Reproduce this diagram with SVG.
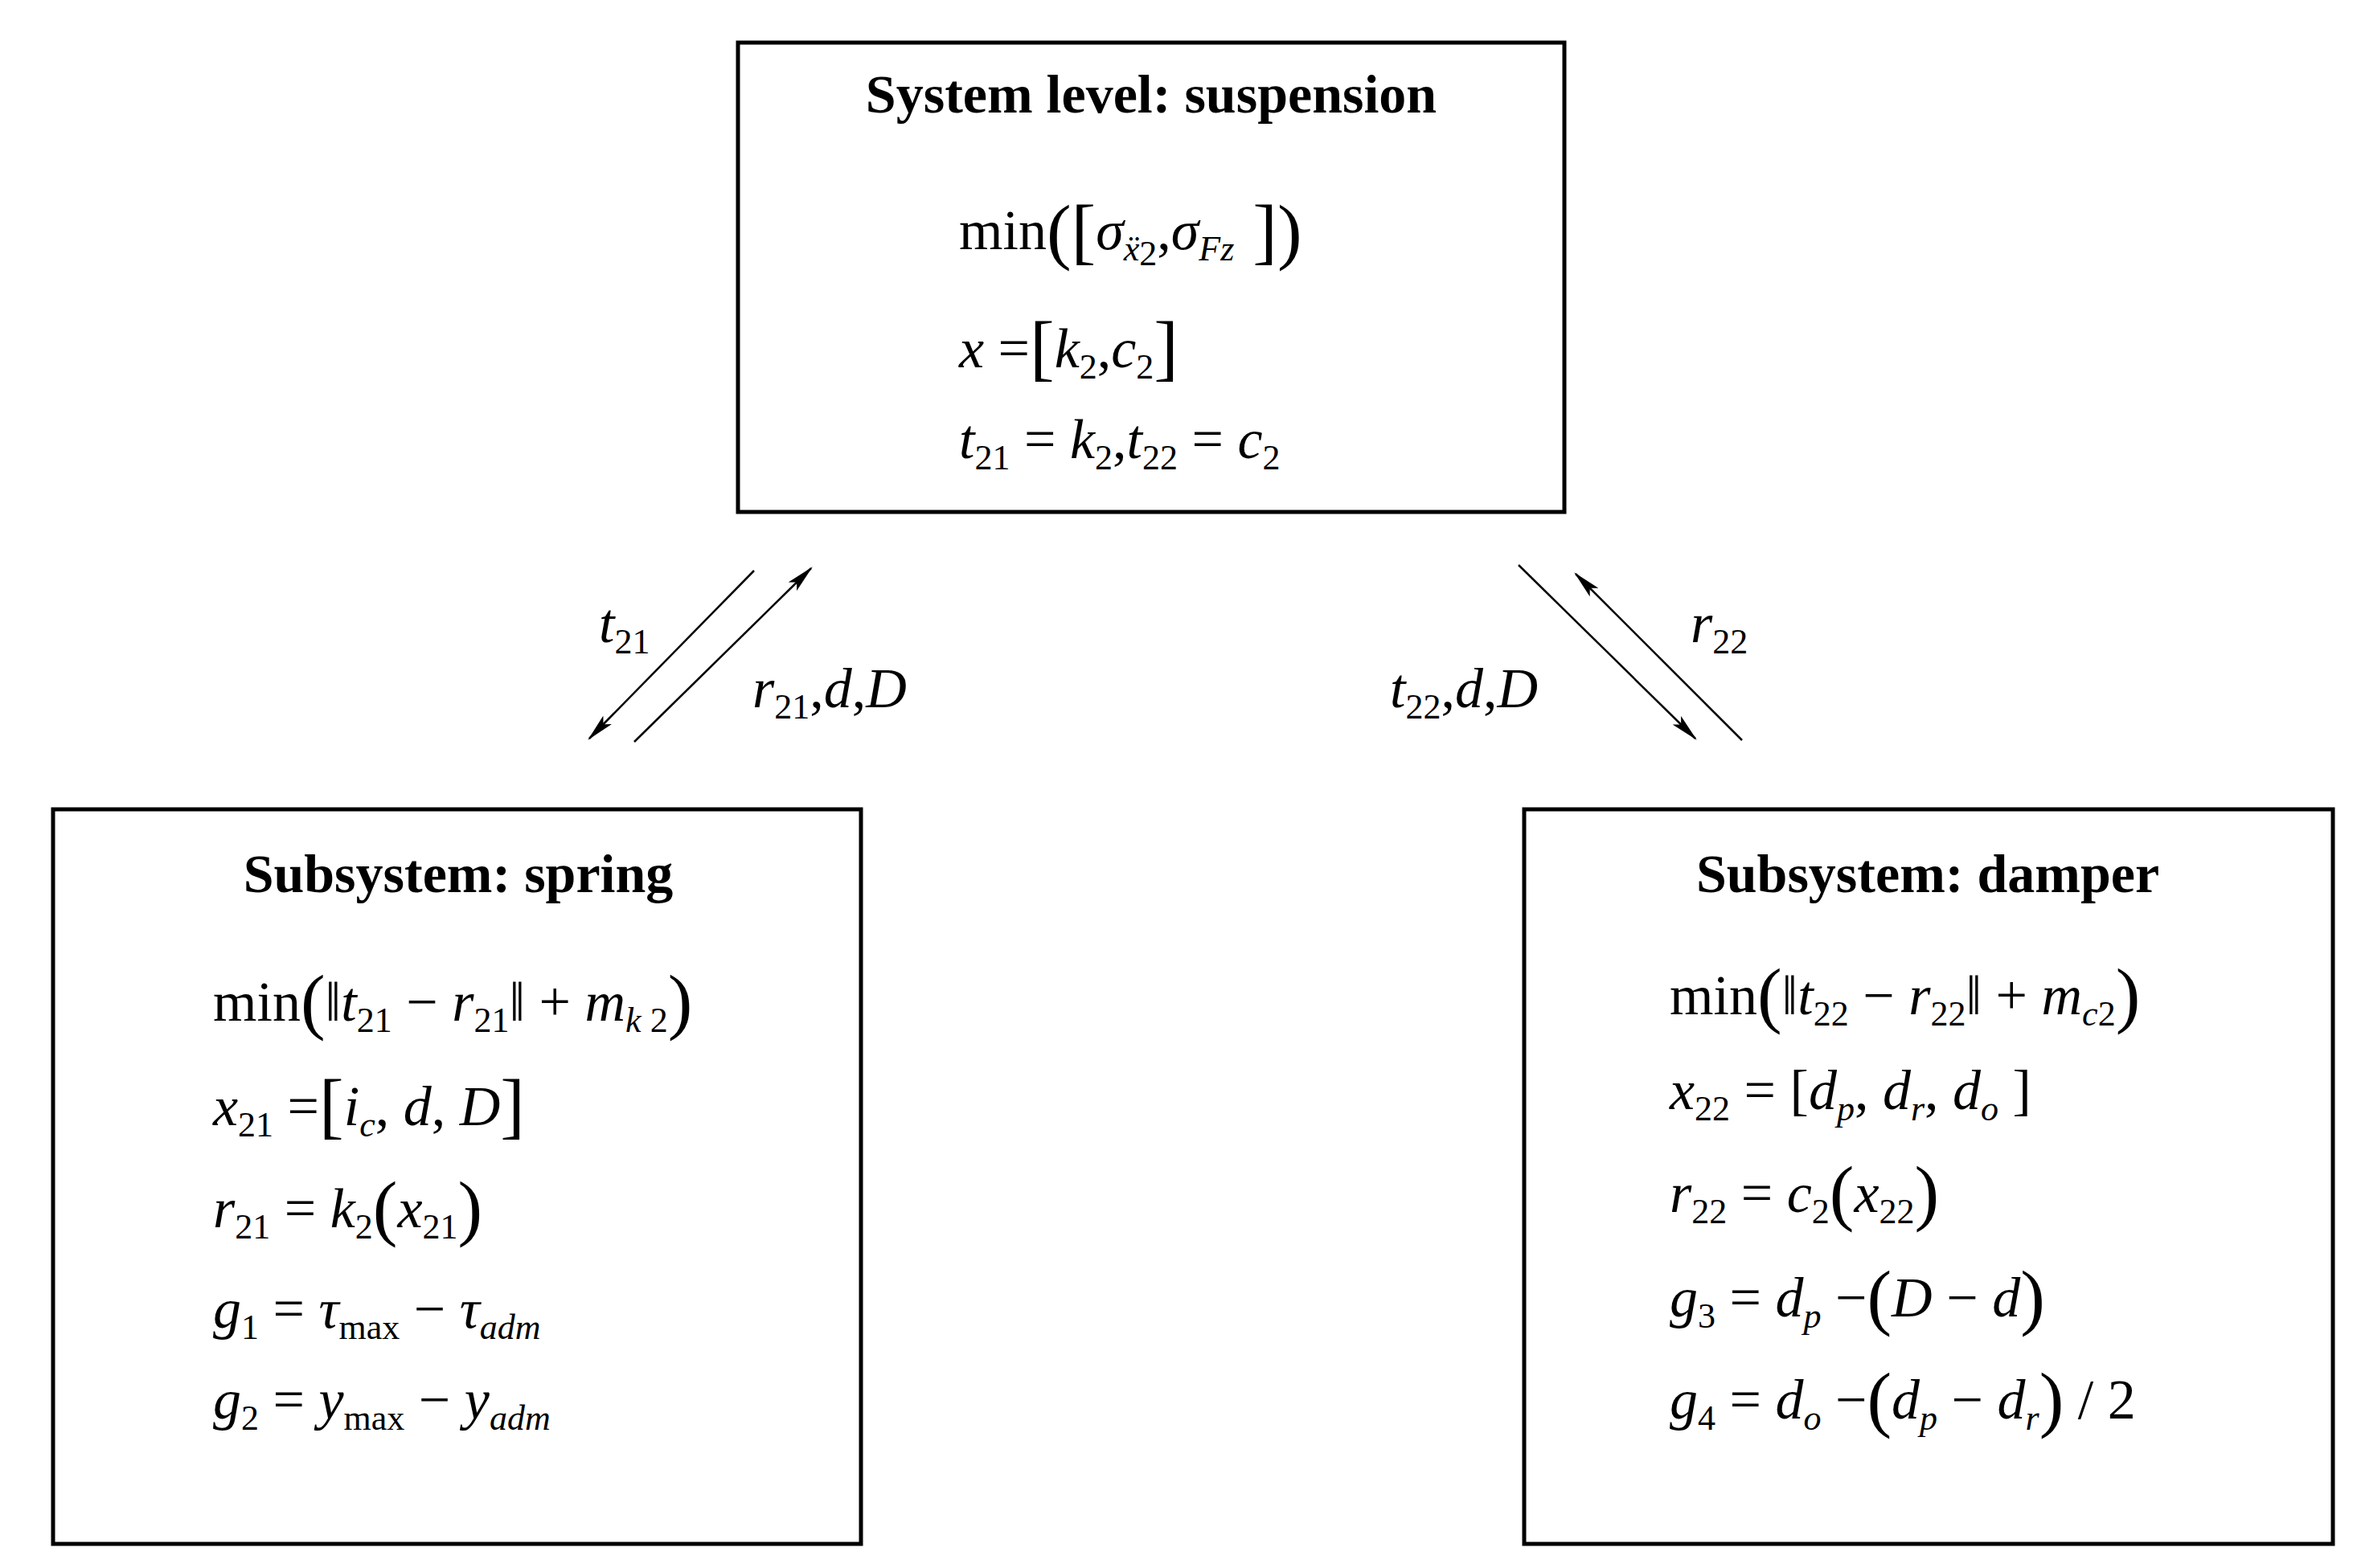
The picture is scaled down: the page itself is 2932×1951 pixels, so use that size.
<svg xmlns="http://www.w3.org/2000/svg" width="2932" height="1951" viewBox="0 0 2932 1951">
<style>
.box{fill:#fff;stroke:#000;stroke-width:5}
.ttl{font-family:"Liberation Serif",serif;font-weight:bold;font-size:68px;text-anchor:middle}
.m{font-family:"Liberation Serif",serif;font-size:70px}
.i{font-style:italic}
.s{font-size:44px}
.b{font-size:92px}
.ln{stroke:#000;stroke-width:2.5;fill:none}
</style>
<defs>
<marker id="ah" markerWidth="14" markerHeight="6" refX="13" refY="3" orient="auto" markerUnits="strokeWidth" viewBox="0 0 14 6">
<path d="M0,0 L14,3 L0,6 L3,3 Z" fill="#000"/>
</marker>
</defs>
<rect width="2932" height="1951" fill="#fff"/>
<g id="system">
<rect class="box" x="918" y="53" width="1028" height="584"/>
<text class="ttl" x="1432" y="140">System level: suspension</text>
<text class="m" x="1193" y="310">min<tspan class="b" dy="8">([</tspan><tspan class="i" dy="-8">σ</tspan><tspan class="i s" dy="14">ẍ</tspan><tspan class="s" font-size="30" dy="6">2</tspan><tspan dy="-20">,</tspan><tspan class="i">σ</tspan><tspan class="i s" dy="14">Fz</tspan><tspan class="b" dy="-6"> ])</tspan></text>
<text class="m" x="1193" y="457"><tspan class="i">x</tspan> =<tspan class="b" dy="6">[</tspan><tspan class="i" dy="-6">k</tspan><tspan class="s" dy="14">2</tspan><tspan dy="-14">,</tspan><tspan class="i">c</tspan><tspan class="s" dy="14">2</tspan><tspan class="b" dy="-8">]</tspan></text>
<text class="m" x="1193" y="570"><tspan class="i">t</tspan><tspan class="s" dy="14">21</tspan><tspan dy="-14"> = </tspan><tspan class="i">k</tspan><tspan class="s" dy="14">2</tspan><tspan dy="-14">,</tspan><tspan class="i">t</tspan><tspan class="s" dy="14">22</tspan><tspan dy="-14"> = </tspan><tspan class="i">c</tspan><tspan class="s" dy="14">2</tspan></text>
</g>
<g id="spring">
<rect class="box" x="66" y="1007" width="1005" height="914"/>
<text class="ttl" x="570" y="1110">Subsystem: spring</text>
<text class="m" x="265" y="1270">min<tspan class="b" dy="6">(</tspan><tspan dy="-6">‖</tspan><tspan class="i">t</tspan><tspan class="s" dy="14">21</tspan><tspan dy="-14"> − </tspan><tspan class="i">r</tspan><tspan class="s" dy="14">21</tspan><tspan dy="-14">‖ + </tspan><tspan class="i">m</tspan><tspan class="i s" dy="14">k</tspan><tspan class="s"> 2</tspan><tspan class="b" dy="-8">)</tspan></text>
<text class="m" x="265" y="1400"><tspan class="i">x</tspan><tspan class="s" dy="14">21</tspan><tspan dy="-14"> =</tspan><tspan class="b" dy="6">[</tspan><tspan class="i" dy="-6">i</tspan><tspan class="i s" dy="14">c</tspan><tspan dy="-14">, </tspan><tspan class="i">d</tspan>, <tspan class="i">D</tspan><tspan class="b" dy="6">]</tspan></text>
<text class="m" x="265" y="1527"><tspan class="i">r</tspan><tspan class="s" dy="14">21</tspan><tspan dy="-14"> = </tspan><tspan class="i">k</tspan><tspan class="s" dy="14">2</tspan><tspan class="b" dy="-8">(</tspan><tspan class="i" dy="-6">x</tspan><tspan class="s" dy="14">21</tspan><tspan class="b" dy="-8">)</tspan></text>
<text class="m" x="265" y="1652"><tspan class="i">g</tspan><tspan class="s" dy="14">1</tspan><tspan dy="-14"> = </tspan><tspan class="i">τ</tspan><tspan class="s" dy="14">max</tspan><tspan dy="-14"> − </tspan><tspan class="i">τ</tspan><tspan class="i s" dy="14">adm</tspan></text>
<text class="m" x="265" y="1765"><tspan class="i">g</tspan><tspan class="s" dy="14">2</tspan><tspan dy="-14"> = </tspan><tspan class="i">y</tspan><tspan class="s" dy="14">max</tspan><tspan dy="-14"> − </tspan><tspan class="i">y</tspan><tspan class="i s" dy="14">adm</tspan></text>
</g>
<g id="damper">
<rect class="box" x="1896" y="1007" width="1006" height="914"/>
<text class="ttl" x="2398" y="1110">Subsystem: damper</text>
<text class="m" x="2077" y="1262">min<tspan class="b" dy="6">(</tspan><tspan dy="-6">‖</tspan><tspan class="i">t</tspan><tspan class="s" dy="14">22</tspan><tspan dy="-14"> − </tspan><tspan class="i">r</tspan><tspan class="s" dy="14">22</tspan><tspan dy="-14">‖ + </tspan><tspan class="i">m</tspan><tspan class="i s" dy="14">c</tspan><tspan class="s">2</tspan><tspan class="b" dy="-8">)</tspan></text>
<text class="m" x="2077" y="1380"><tspan class="i">x</tspan><tspan class="s" dy="14">22</tspan><tspan dy="-14"> = [</tspan><tspan class="i">d</tspan><tspan class="i s" dy="14">p</tspan><tspan dy="-14">, </tspan><tspan class="i">d</tspan><tspan class="i s" dy="14">r</tspan><tspan dy="-14">, </tspan><tspan class="i">d</tspan><tspan class="i s" dy="14">o</tspan><tspan dy="-14"> ]</tspan></text>
<text class="m" x="2077" y="1508"><tspan class="i">r</tspan><tspan class="s" dy="14">22</tspan><tspan dy="-14"> = </tspan><tspan class="i">c</tspan><tspan class="s" dy="14">2</tspan><tspan class="b" dy="-8">(</tspan><tspan class="i" dy="-6">x</tspan><tspan class="s" dy="14">22</tspan><tspan class="b" dy="-8">)</tspan></text>
<text class="m" x="2077" y="1638"><tspan class="i">g</tspan><tspan class="s" dy="14">3</tspan><tspan dy="-14"> = </tspan><tspan class="i">d</tspan><tspan class="i s" dy="14">p</tspan><tspan dy="-14"> −</tspan><tspan class="b" dy="6">(</tspan><tspan class="i" dy="-6">D</tspan> − <tspan class="i">d</tspan><tspan class="b" dy="6">)</tspan></text>
<text class="m" x="2077" y="1765"><tspan class="i">g</tspan><tspan class="s" dy="14">4</tspan><tspan dy="-14"> = </tspan><tspan class="i">d</tspan><tspan class="i s" dy="14">o</tspan><tspan dy="-14"> −</tspan><tspan class="b" dy="6">(</tspan><tspan class="i" dy="-6">d</tspan><tspan class="i s" dy="14">p</tspan><tspan dy="-14"> − </tspan><tspan class="i">d</tspan><tspan class="i s" dy="14">r</tspan><tspan class="b" dy="-8">)</tspan><tspan dy="-6"> / 2</tspan></text>
</g>
<g id="connectors">
<line class="ln" x1="938" y1="710" x2="733" y2="919" marker-end="url(#ah)"/>
<line class="ln" x1="789" y1="923" x2="1009" y2="707" marker-end="url(#ah)"/>
<line class="ln" x1="1889" y1="703" x2="2109" y2="919" marker-end="url(#ah)"/>
<line class="ln" x1="2167" y1="921" x2="1960" y2="714" marker-end="url(#ah)"/>
<text class="m" x="745" y="799"><tspan class="i">t</tspan><tspan class="s" dy="14">21</tspan></text>
<text class="m" x="936" y="880"><tspan class="i">r</tspan><tspan class="s" dy="14">21</tspan><tspan dy="-14">,</tspan><tspan class="i">d</tspan>,<tspan class="i">D</tspan></text>
<text class="m" x="1729" y="880"><tspan class="i">t</tspan><tspan class="s" dy="14">22</tspan><tspan dy="-14">,</tspan><tspan class="i">d</tspan>,<tspan class="i">D</tspan></text>
<text class="m" x="2103" y="799"><tspan class="i">r</tspan><tspan class="s" dy="14">22</tspan></text>
</g>
</svg>
